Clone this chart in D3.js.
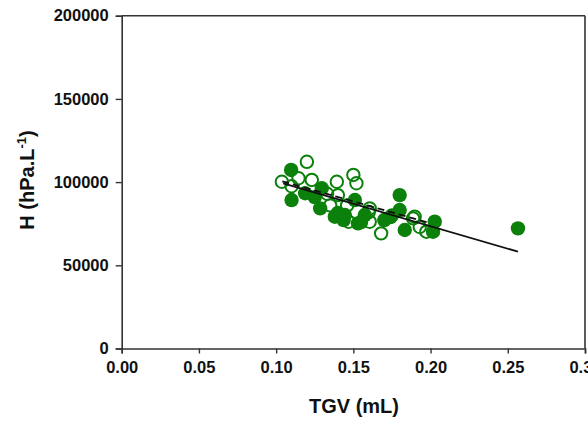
<!DOCTYPE html>
<html><head><meta charset="utf-8">
<script src="https://cdn.jsdelivr.net/npm/d3@7"></script>
<style>body{margin:0;background:#fff}svg{display:block}text{font-family:"Liberation Sans",Arial,sans-serif;font-weight:bold;fill:#111}</style>
</head><body><svg id="c" width="588" height="421"></svg>
<script>
const xTicks = [0, 0.05, 0.10, 0.15, 0.20, 0.25, 0.30];
const yTicks = [0, 50000, 100000, 150000, 200000];
const filledX = [0.1097,0.110,0.1188,0.1296,0.1285,0.125,0.138,0.1437,0.140,0.1445,0.153,0.151,0.1574,0.155,0.170,0.174,0.180,0.180,0.1833,0.2027,0.2016,0.2566];
const filledY = [107300,89200,93300,96300,84200,91000,79200,77200,81500,80200,75200,89200,80200,76000,77200,79000,92200,83200,71200,76200,70200,72200];
const openX = [0.1037,0.1199,0.1145,0.1231,0.1393,0.150,0.152,0.1469,0.140,0.1606,0.1606,0.168,0.1897,0.1973,0.1887,0.110,0.133,0.146,0.160,0.175,0.193,0.135];
const openY = [100200,112200,102300,101300,100200,104300,99300,76200,92200,84200,76200,69200,79200,70200,78200,97500,93000,86000,82000,80000,73000,86000];
const solidFit = [[0.1046,99300],[0.2566,58170]];
const dashedFit = [[0.104,100500],[0.199,75500]];

const svg = d3.select("#c");
const L=121.7, R=585, T=15.7, B=348.5;
const x = d3.scaleLinear().domain([0,0.30]).range([L,R]);
const y = d3.scaleLinear().domain([0,200000]).range([B,T]);

const xa = svg.append("g").attr("transform",`translate(0,${B})`)
  .call(d3.axisBottom(x).tickValues(xTicks).tickFormat(d3.format(".2f")).tickSize(5).tickPadding(8));
const ya = svg.append("g").attr("transform",`translate(${L},0)`)
  .call(d3.axisLeft(y).tickValues(yTicks).tickFormat(d3.format("d")).tickSize(6).tickPadding(7));
[xa,ya].forEach(a=>{a.select(".domain").attr("stroke","#333").attr("stroke-width",1.6);
  a.selectAll(".tick line").attr("stroke","#333").attr("stroke-width",1.4);
  a.selectAll("text").attr("font-size",16.5).attr("font-family","Liberation Sans, Arial").attr("font-weight","bold").attr("fill","#111");});
svg.append("line").attr("x1",L).attr("x2",R).attr("y1",T).attr("y2",T).attr("stroke","#333").attr("stroke-width",1.6);
svg.append("line").attr("x1",R).attr("x2",R).attr("y1",T).attr("y2",B).attr("stroke","#333").attr("stroke-width",1.6);

const g = svg.append("g");
g.selectAll("circle.o").data(openX.map((v,i)=>[v,openY[i]])).join("circle")
  .attr("cx",d=>x(d[0])).attr("cy",d=>y(d[1])).attr("r",6.2)
  .attr("fill","none").attr("stroke","#0b800b").attr("stroke-width",2);
g.selectAll("circle.f").data(filledX.map((v,i)=>[v,filledY[i]])).join("circle")
  .attr("cx",d=>x(d[0])).attr("cy",d=>y(d[1])).attr("r",7.2)
  .attr("fill","#0b800b");
const line = d3.line().x(d=>x(d[0])).y(d=>y(d[1]));
svg.append("path").attr("d",line(dashedFit)).attr("stroke","#111").attr("stroke-width",1.8).attr("stroke-dasharray","7,4").attr("fill","none");
svg.append("path").attr("d",line(solidFit)).attr("stroke","#111").attr("stroke-width",1.8).attr("fill","none");

svg.append("text").attr("x",354).attr("y",413).attr("text-anchor","middle").attr("font-size",20).text("TGV (mL)");
const yt = svg.append("text").attr("transform","translate(34,180) rotate(-90)").attr("text-anchor","middle").attr("font-size",20);
yt.append("tspan").text("H (hPa.L");
yt.append("tspan").attr("dy",-8).attr("font-size",13).text("-1");
yt.append("tspan").attr("dy",8).text(")");
</script></body></html>
